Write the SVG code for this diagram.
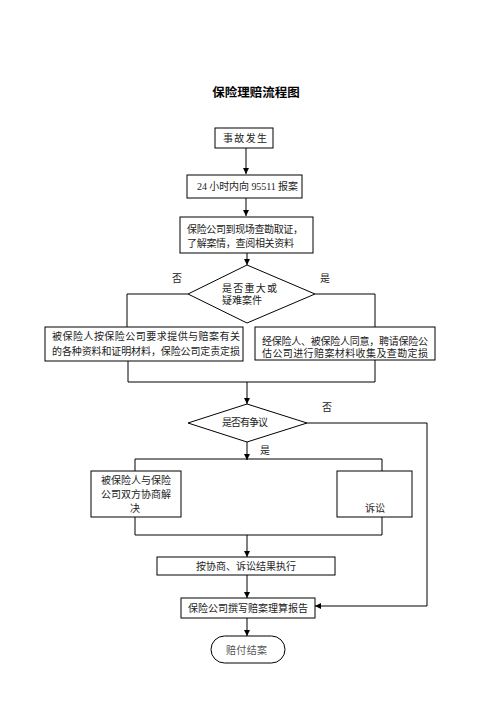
<svg xmlns="http://www.w3.org/2000/svg" width="496" height="702" viewBox="0 0 496 702">
<style>
.b{fill:#fff;stroke:#000;stroke-width:1}
.l{fill:none;stroke:#000;stroke-width:1}
text{font-family:"Liberation Serif","Noto Sans CJK SC",serif;font-size:10px;fill:#222}
.c{text-anchor:middle}
.t{font-family:"Liberation Sans","Noto Sans CJK SC",sans-serif;font-size:12.5px;font-weight:bold;fill:#000}
</style>
<defs>
<marker id="ah" markerWidth="6" markerHeight="6" refX="6" refY="3" orient="auto" markerUnits="userSpaceOnUse">
<path d="M0,0 L6,3 L0,6 Z" fill="#000"/>
</marker>
</defs>
<rect width="496" height="702" fill="#fff"/>
<text class="t c" x="256" y="97">保险理赔流程图</text>

<g id="connectors">
<line class="l" x1="246" y1="148" x2="246" y2="174" marker-end="url(#ah)"/>
<line class="l" x1="246" y1="198" x2="246" y2="216" marker-end="url(#ah)"/>
<line class="l" x1="247" y1="253" x2="247" y2="265" marker-end="url(#ah)"/>
<polyline class="l" points="188,294 127,294 127,327"/>
<polyline class="l" points="315,294 375,294 375,327"/>
<polyline class="l" points="128,361 128,382 375,382 375,360"/>
<line class="l" x1="247" y1="382" x2="247" y2="404" marker-end="url(#ah)"/>
<polyline class="l" points="307,423 427,423 427,606"/>
<line class="l" x1="427" y1="606" x2="315" y2="606" marker-end="url(#ah)"/>
<line class="l" x1="247" y1="442" x2="247" y2="460" marker-end="url(#ah)"/>
<polyline class="l" points="135,471 135,459 382,459 382,471"/>
<polyline class="l" points="135,517 135,535 382,535 382,517"/>
<line class="l" x1="247" y1="535" x2="247" y2="557" marker-end="url(#ah)"/>
<line class="l" x1="247" y1="575" x2="247" y2="598" marker-end="url(#ah)"/>
<line class="l" x1="247" y1="618" x2="247" y2="636" marker-end="url(#ah)"/>
</g>

<g id="n1">
<rect class="b" x="215" y="128" width="58" height="20"/>
<text x="223" y="142" textLength="44" lengthAdjust="spacing">事 故 发 生</text>
</g>
<g id="n2">
<rect class="b" x="187" y="175" width="115" height="23"/>
<text x="197" y="190" textLength="101" lengthAdjust="spacing">24 小时内向 95511 报案</text>
</g>
<g id="n3">
<rect class="b" x="180" y="217" width="133" height="36"/>
<text x="187" y="233" textLength="116" lengthAdjust="spacing">保险公司到现场查勘取证，</text>
<text x="187" y="247" textLength="107" lengthAdjust="spacing">了解案情，查阅相关资料</text>
</g>
<g id="d1">
<polygon class="b" points="247,265 315,294 247,323 188,294"/>
<text x="222" y="292" textLength="55" lengthAdjust="spacing">是 否 重 大 或</text>
<text x="222" y="304" textLength="40" lengthAdjust="spacing">疑难案件</text>
</g>
<text class="c" x="177" y="282">否</text>
<text class="c" x="325" y="282">是</text>
<g id="n4">
<rect class="b" x="45" y="327" width="198" height="34"/>
<text x="52" y="340" textLength="188" lengthAdjust="spacing">被保险人按保险公司要求提供与赔案有关</text>
<text x="52" y="355" textLength="188" lengthAdjust="spacing">的各种资料和证明材料，保险公司定责定损</text>
</g>
<g id="n5">
<rect class="b" x="255" y="327" width="180" height="33"/>
<text x="262" y="345" textLength="166" lengthAdjust="spacing">经保险人、被保险人同意，聘请保险公</text>
<text x="262" y="357" textLength="166" lengthAdjust="spacing">估公司进行赔案材料收集及查勘定损</text>
</g>
<g id="d2">
<polygon class="b" points="247,404 307,423 247,442 188,423"/>
<text x="222" y="426" textLength="46" lengthAdjust="spacing">是否有争议</text>
</g>
<text class="c" x="327" y="411">否</text>
<text class="c" x="265" y="454">是</text>
<g id="n6">
<rect class="b" x="91" y="471" width="90" height="46"/>
<text x="101" y="484" textLength="70" lengthAdjust="spacing">被保险人与保险</text>
<text x="101" y="498" textLength="70" lengthAdjust="spacing">公司双方协商解</text>
<text class="c" x="135" y="512">决</text>
</g>
<g id="n7">
<rect class="b" x="337" y="471" width="75" height="46"/>
<text class="c" x="375" y="512">诉讼</text>
</g>
<g id="n8">
<rect class="b" x="157" y="557" width="178" height="18"/>
<text class="c" x="246" y="570" textLength="100" lengthAdjust="spacing">按协商、诉讼结果执行</text>
</g>
<g id="n9">
<rect class="b" x="181" y="598" width="134" height="20"/>
<text class="c" x="248" y="612" textLength="120" lengthAdjust="spacing">保险公司撰写赔案理算报告</text>
</g>
<g id="n10">
<rect class="b" x="211" y="636" width="74" height="27" rx="13.5" ry="13.5"/>
<text x="226" y="654" textLength="41" lengthAdjust="spacing" fill="#555" style="fill:#555">赔付结案</text>
</g>
</svg>
